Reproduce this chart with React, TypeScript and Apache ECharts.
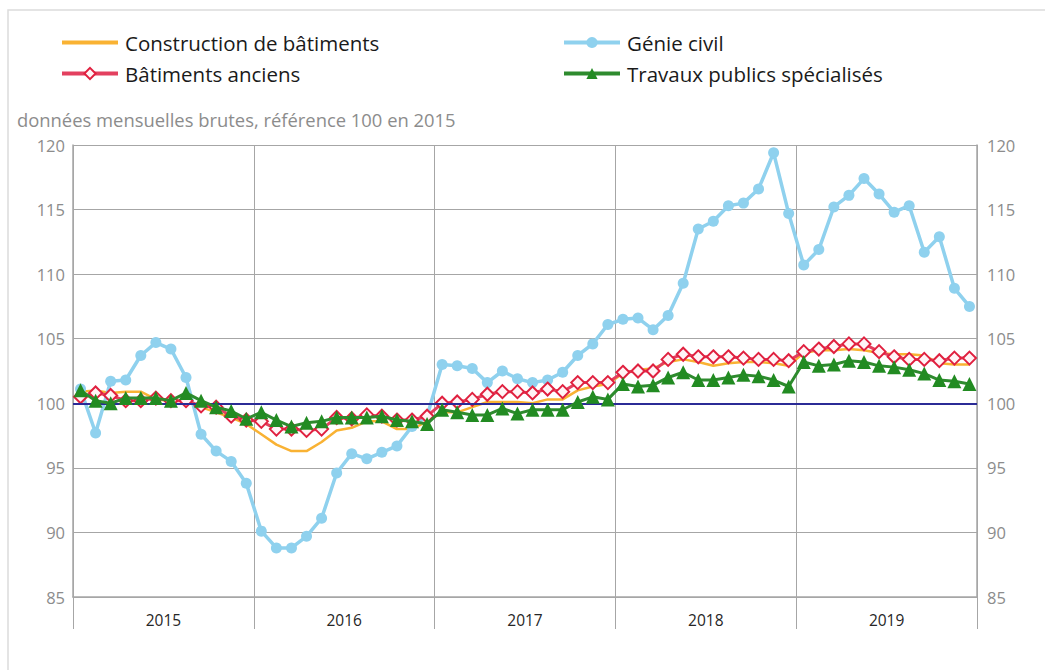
import React, { useEffect, useRef } from "react";
import * as echarts from "echarts";

const years = ["2015", "2016", "2017", "2018", "2019"];
const monthNames = ["01", "02", "03", "04", "05", "06", "07", "08", "09", "10", "11", "12"];
const months: string[] = [];
years.forEach((y) => monthNames.forEach((m) => months.push(`${y}-${m}`)));

const yTicks = { min: 85, max: 120, interval: 5 };

const construction = [
  100.9, 101.0, 100.8, 100.9, 100.9, 100.3, 100.2, 100.2, 99.7, 99.3, 98.9, 98.4,
  97.6, 96.8, 96.3, 96.3, 97.0, 97.9, 98.1, 98.6, 98.6, 98.0, 98.0, 98.6,
  99.3, 99.3, 99.7, 100.1, 100.1, 100.1, 100.0, 100.3, 100.3, 101.0, 101.3, 101.5,
  102.3, 102.6, 102.7, 103.2, 103.4, 103.2, 102.9, 103.1, 103.2, 103.2, 103.1, 102.9,
  103.9, 104.1, 104.1, 104.2, 104.1, 103.9, 103.8, 103.8, 103.7, 103.1, 103.0, 103.0,
];

const genieCivil = [
  101.1, 97.7, 101.7, 101.8, 103.7, 104.7, 104.2, 102.0, 97.6, 96.3, 95.5, 93.8,
  90.1, 88.8, 88.8, 89.7, 91.1, 94.6, 96.1, 95.7, 96.2, 96.7, 98.2, 99.0,
  103.0, 102.9, 102.7, 101.6, 102.5, 101.9, 101.6, 101.8, 102.4, 103.7, 104.6, 106.1,
  106.5, 106.6, 105.7, 106.8, 109.3, 113.5, 114.1, 115.3, 115.5, 116.6, 119.4, 114.7,
  110.7, 111.9, 115.2, 116.1, 117.4, 116.2, 114.8, 115.3, 111.7, 112.9, 108.9, 107.5,
];

const batimentsAnciens = [
  100.5, 100.8, 100.6, 100.2, 100.2, 100.4, 100.2, 100.2, 99.8, 99.7, 99.0, 98.7,
  98.6, 98.0, 98.0, 97.9, 98.0, 98.9, 98.8, 99.1, 99.0, 98.7, 98.7, 99.0,
  100.0, 100.1, 100.3, 100.7, 100.9, 100.9, 100.8, 101.1, 100.9, 101.6, 101.6, 101.6,
  102.4, 102.5, 102.5, 103.4, 103.8, 103.6, 103.6, 103.6, 103.5, 103.4, 103.4, 103.3,
  104.0, 104.2, 104.4, 104.6, 104.6, 104.0, 103.6, 103.4, 103.4, 103.3, 103.5, 103.5,
];

const travauxPublics = [
  101.0, 100.2, 100.0, 100.4, 100.4, 100.4, 100.2, 100.8, 100.2, 99.7, 99.4, 98.8,
  99.3, 98.7, 98.2, 98.5, 98.6, 98.9, 98.9, 98.9, 99.0, 98.7, 98.6, 98.4,
  99.5, 99.3, 99.1, 99.1, 99.6, 99.2, 99.5, 99.5, 99.5, 100.1, 100.5, 100.3,
  101.5, 101.3, 101.4, 102.0, 102.4, 101.8, 101.8, 102.0, 102.2, 102.1, 101.8, 101.3,
  103.2, 102.9, 103.0, 103.3, 103.2, 102.9, 102.8, 102.6, 102.3, 101.8, 101.7, 101.5,
];

const referenceLevel = 100;

const FONT = "'Open Sans', 'Noto Sans', sans-serif";

export default function App() {
  const ref = useRef<HTMLDivElement>(null);

  useEffect(() => {
    if (!ref.current) return;
    const chart = echarts.init(ref.current, null, { renderer: "svg" });
    const gridLine = { lineStyle: { color: "#a6a6a6", width: 1 } };
    const yAxisBase = {
      type: "value",
      min: yTicks.min,
      max: yTicks.max,
      interval: yTicks.interval,
      axisLine: { show: true, lineStyle: { color: "#a6a6a6", width: 1.5 } },
      axisTick: { show: false },
      splitLine: { show: true, ...gridLine },
      axisLabel: { color: "#8c8c8c", fontSize: 16.5, fontFamily: FONT },
    };
    const legendText = {
      color: "#1a1a1a",
      fontSize: 20.5,
      fontFamily: FONT,
      padding: [0, 0, 0, 2],
    };
    const lineIcon = "path://M0,0L56,0L56,4L0,4Z";
    const legendBase = {
      top: 27,
      orient: "vertical",
      itemWidth: 56,
      itemHeight: 14,
      itemGap: 10,
      lineStyle: { width: 4 },
      textStyle: legendText,
    };
    chart.setOption({
      animation: false,
      backgroundColor: "#ffffff",
      textStyle: { fontFamily: FONT },
      graphic: [
        {
          type: "rect",
          shape: { x: 8, y: 10, width: 1100, height: 700 },
          style: { fill: "none", stroke: "#dcdcdc", lineWidth: 1.5 },
          silent: true,
          z: -10,
        },
        {
          type: "text",
          left: 17,
          top: 110,
          style: {
            text: "données mensuelles brutes, référence 100 en 2015",
            fill: "#8c8c8c",
            fontSize: 18.4,
            fontFamily: FONT,
          },
        },
      ],
      legend: [
        {
          ...legendBase,
          left: 55,
          data: [
            { name: "Construction de bâtiments", icon: lineIcon },
            "Bâtiments anciens",
          ],
        },
        {
          ...legendBase,
          left: 557,
          data: ["Génie civil", "Travaux publics spécialisés"],
        },
      ],
      grid: { left: 73, right: 68, top: 145, bottom: 73, containLabel: false },
      xAxis: [
        {
          type: "category",
          data: months,
          boundaryGap: true,
          show: false,
        },
        {
          type: "category",
          data: years,
          boundaryGap: true,
          position: "bottom",
          axisLine: { show: true, lineStyle: { color: "#a6a6a6", width: 1.5 } },
          axisTick: { show: true, length: 32, lineStyle: { color: "#a6a6a6", width: 1 } },
          splitLine: { show: true, ...gridLine },
          axisLabel: { color: "#262626", fontSize: 15.5, fontFamily: FONT, margin: 15 },
        },
      ],
      yAxis: [
        { ...yAxisBase, position: "left", axisLabel: { ...yAxisBase.axisLabel, margin: 8 } },
        { ...yAxisBase, position: "right", axisLabel: { ...yAxisBase.axisLabel, margin: 10 } },
      ],
      series: [
        {
          name: "Construction de bâtiments",
          type: "line",
          xAxisIndex: 0,
          yAxisIndex: 0,
          data: construction,
          symbol: "none",
          lineStyle: { color: "#F9B233", width: 2.5 },
          itemStyle: { color: "#F9B233" },
          markLine: {
            silent: true,
            symbol: "none",
            label: { show: false },
            lineStyle: { color: "#2B2B96", width: 2, type: "solid" },
            data: [{ yAxis: referenceLevel }],
          },
          z: 2,
        },
        {
          name: "Génie civil",
          type: "line",
          xAxisIndex: 0,
          yAxisIndex: 0,
          data: genieCivil,
          symbol: "circle",
          symbolSize: 11,
          showAllSymbol: true,
          lineStyle: { color: "#8FD1EE", width: 3.5 },
          itemStyle: { color: "#8FD1EE" },
          z: 3,
        },
        {
          name: "Bâtiments anciens",
          type: "line",
          xAxisIndex: 0,
          yAxisIndex: 0,
          data: batimentsAnciens,
          symbol: "diamond",
          symbolSize: 13,
          showAllSymbol: true,
          lineStyle: { color: "#E3405F", width: 3 },
          itemStyle: { color: "#FFF4F6", borderColor: "#E0203F", borderWidth: 2 },
          z: 4,
        },
        {
          name: "Travaux publics spécialisés",
          type: "line",
          xAxisIndex: 0,
          yAxisIndex: 0,
          data: travauxPublics,
          symbol: "triangle",
          symbolSize: 14,
          showAllSymbol: true,
          lineStyle: { color: "#2E8B2E", width: 3 },
          itemStyle: { color: "#228B22" },
          z: 5,
        },
      ],
    });
    return () => chart.dispose();
  }, []);

  return (
    <div
      ref={ref}
      style={{ position: "absolute", left: 0, top: 0, width: 1045, height: 670 }}
    />
  );
}
